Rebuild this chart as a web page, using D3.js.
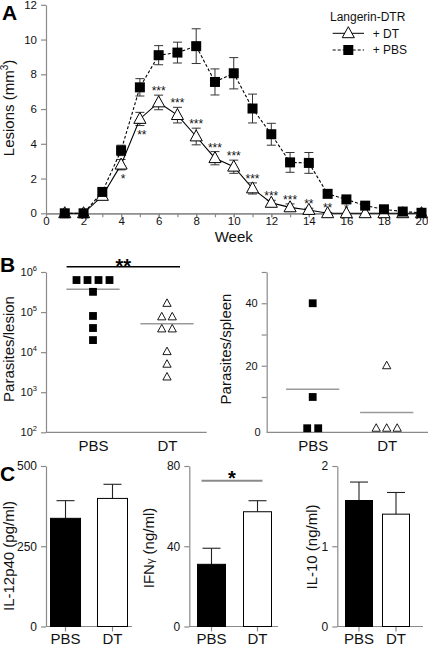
<!DOCTYPE html>
<html><head><meta charset="utf-8">
<script src="https://cdn.jsdelivr.net/npm/d3@7"></script>
<style>
body{margin:0;background:#fff;}
svg{display:block;font-family:"Liberation Sans",Arial,Helvetica,sans-serif;}
</style></head><body>
<svg id="chart" width="428" height="647"></svg>
<script>
// ---------- DATA ----------
// Panel A: lesion size (mm3) by week
const weeks = [1,2,3,4,5,6,7,8,9,10,11,12,13,14,15,16,17,18,19,20];
const pbsMean = [0,0,1.23,3.62,7.25,9.1,9.25,9.62,7.56,8.06,6.03,4.55,2.93,2.9,1.12,0.8,0.44,0.23,0.1,0.03];
const pbsErr  = [0,0,0.15,0.3,0.5,0.55,0.6,1.0,0.75,0.9,0.83,0.63,0.57,0.6,0.2,0.15,0.1,0.1,0.05,0];
const dtMean  = [0,0,1.0,2.8,5.43,6.38,5.65,4.42,3.17,2.68,1.43,0.6,0.34,0.19,0,0,0,0,0,0];
const dtErr   = [0,0,0.1,0.3,0.38,0.42,0.45,0.48,0.38,0.38,0.32,0.15,0.2,0.1,0.05,0,0,0,0,0];
const sigA    = ["","","","*","**","***","***","***","***","***","***","***","***","**","**","*","","","",""];
const xTicksA = [0,2,4,6,8,10,12,14,16,18,20];
const yTicksA = [0,2,4,6,8,10,12];

// Panel B
const groups = ["PBS","DT"];
const lesionPBS = [630000,630000,630000,630000,320000,80000,40000,20000];
const lesionDT  = [165000,76000,76000,38000,38000,10300,5000,2400];
const lesionTicks = [100,1000,10000,100000,1000000];
const spleenPBS = [40,10,0,0];
const spleenDT  = [20,0,0,0];
const spleenTicks = [10,20,30,40,50];
const spleenLabels = [20,40];

// Panel C
const il12Mean = [337,399], il12Err = [55,44], il12Ticks = [0,250,500];
const ifngMean = [31,57.2], ifngErr = [8,5.5], ifngTicks = [0,40,80];
const il10Mean = [1.57,1.40], il10Err = [0.23,0.27], il10Ticks = [0,1,2];

// ---------- DRAW ----------
const svg = d3.select("#chart");
const AX = "#8a8a8a", TXT = "#111";

function styleAxis(g, fs){
  g.select(".domain").attr("stroke", AX).attr("stroke-width", 1.2);
  g.selectAll(".tick line").attr("stroke", AX).attr("stroke-width", 1.2);
  g.selectAll(".tick text").attr("fill", TXT).attr("font-size", fs).attr("font-family", null);
  g.attr("font-family", null);
}
function panelLetter(t, x, y){
  svg.append("text").attr("x", x).attr("y", y).attr("font-size", 21).attr("font-weight", "bold").text(t);
}
function yTitle(parts, x, y){
  const t = svg.append("text").attr("transform", `translate(${x},${y}) rotate(-90)`)
    .attr("text-anchor", "middle").attr("font-size", 15).attr("fill", TXT);
  parts.forEach(p => {
    const s = t.append("tspan").text(p.t);
    if (p.sup) s.attr("font-size", 10).attr("dy", -6);
    if (p.back) s.attr("dy", p.back);
    if (p.small) s.attr("font-size", p.small);
  });
}
const triPath = s => `M0,${-s*0.6}L${s*0.55},${s*0.4}L${-s*0.55},${s*0.4}Z`;

// ===== Panel A =====
const xA = d3.scaleLinear().domain([0,20]).range([46,421.5]);
const yA = d3.scaleLinear().domain([0,12]).range([213.3,4.8]);

const gxMinor = svg.append("g").attr("transform", `translate(0,${yA(0)})`)
  .call(d3.axisBottom(xA).tickValues(weeks).tickFormat("").tickSize(4).tickSizeOuter(0));
styleAxis(gxMinor, 11.5);
const gxA = svg.append("g").attr("transform", `translate(0,${yA(0)})`)
  .call(d3.axisBottom(xA).tickValues(xTicksA).tickFormat(d3.format("d")).tickSize(4).tickSizeOuter(0).tickPadding(0));
styleAxis(gxA, 11.5);
const gyA = svg.append("g").attr("transform", `translate(${xA(0)},0)`)
  .call(d3.axisLeft(yA).tickValues(yTicksA).tickSize(5).tickSizeOuter(0).tickPadding(4));
styleAxis(gyA, 11.5);

svg.append("text").attr("x", (xA(0)+xA(20))/2).attr("y", 241.5).attr("text-anchor","middle")
  .attr("font-size", 15).attr("fill", TXT).text("Week");
yTitle([{t:"Lesions (mm"},{t:"3",sup:true},{t:")",back:6}], 14, 108);
panelLetter("A", 2, 20);

const pbsData = weeks.map((w,i)=>({w, v:pbsMean[i], e:pbsErr[i]}));
const dtData  = weeks.map((w,i)=>({w, v:dtMean[i], e:dtErr[i], s:sigA[i]}));

function errBars(data){
  const g = svg.append("g").attr("stroke", "#333").attr("stroke-width", 1);
  data.filter(d=>d.e>0).forEach(d=>{
    const x = xA(d.w);
    g.append("line").attr("x1",x).attr("x2",x).attr("y1",yA(d.v-d.e)).attr("y2",yA(d.v+d.e));
    [d.v-d.e, d.v+d.e].forEach(v=> g.append("line").attr("x1",x-4.5).attr("x2",x+4.5).attr("y1",yA(v)).attr("y2",yA(v)));
  });
}
errBars(dtData); errBars(pbsData);
const line = d3.line().x(d=>xA(d.w)).y(d=>yA(d.v));
svg.append("path").datum(dtData).attr("d", line).attr("fill","none").attr("stroke","#000").attr("stroke-width",1.1);
svg.append("path").datum(pbsData).attr("d", line).attr("fill","none").attr("stroke","#000").attr("stroke-width",1.1).attr("stroke-dasharray","3,2");

svg.append("g").selectAll("path").data(dtData).join("path")
  .attr("transform", d=>`translate(${xA(d.w)},${yA(d.v)})`).attr("d", triPath(11))
  .attr("fill","#fff").attr("stroke","#000").attr("stroke-width",1);
svg.append("g").selectAll("rect").data(pbsData).join("rect")
  .attr("x", d=>xA(d.w)-5).attr("y", d=>yA(d.v)-5).attr("width",10).attr("height",10).attr("fill","#000");

svg.append("g").selectAll("text").data(dtData.filter(d=>d.s)).join("text")
  .attr("x", d=> d.w<=5 ? xA(d.w)+2 : xA(d.w))
  .attr("y", d=> d.w<=5 ? yA(d.v-d.e)+13 : yA(d.v+d.e))
  .attr("text-anchor","middle").attr("font-size",12).attr("fill","#111").text(d=>d.s);

// legend
const lg = svg.append("g");
lg.append("text").attr("x",330).attr("y",21).attr("font-size",12).attr("fill",TXT).text("Langerin-DTR");
lg.append("line").attr("x1",332.7).attr("x2",364).attr("y1",33.3).attr("y2",33.3).attr("stroke","#000");
lg.append("path").attr("transform","translate(348.3,33.3)").attr("d",triPath(11)).attr("fill","#fff").attr("stroke","#000");
lg.append("text").attr("x",372.7).attr("y",37.6).attr("font-size",12).attr("fill",TXT).text("+ DT");
lg.append("line").attr("x1",332.7).attr("x2",364).attr("y1",50).attr("y2",50).attr("stroke","#000").attr("stroke-dasharray","3,2");
lg.append("rect").attr("x",343.3).attr("y",45).attr("width",10).attr("height",10).attr("fill","#000");
lg.append("text").attr("x",372.7).attr("y",54.3).attr("font-size",12).attr("fill",TXT).text("+ PBS");

// ===== Panel B =====
panelLetter("B", 0, 272);
function jitter(vals, sp){
  const cnt = d3.rollup(vals, v=>v.length, v=>v), seen = new Map();
  return vals.map(v=>{ const n=cnt.get(v), i=seen.get(v)||0; seen.set(v,i+1); return {v, dx:(i-(n-1)/2)*sp}; });
}
function dotPanel(opt){
  const {y, x, x0, x1, pbs, dt} = opt;
  svg.append("line").attr("x1",x0).attr("x2",x1).attr("y1",y.range()[0]).attr("y2",y.range()[0]).attr("stroke",AX).attr("stroke-width",1.2);
  const gx = svg.append("g").attr("transform",`translate(0,${y.range()[0]})`)
    .call(d3.axisBottom(x).tickSize(0).tickPadding(8.5));
  gx.select(".domain").remove();
  gx.selectAll(".tick text").attr("font-size",15).attr("fill",TXT);
  gx.attr("font-family",null);
  [[pbs,"PBS"],[dt,"DT"]].forEach(([vals,gname])=>{
    const m = d3.mean(vals), cx = x(gname);
    svg.append("line").attr("x1",cx-26.6).attr("x2",cx+26.6).attr("y1",y(m)).attr("y2",y(m))
      .attr("stroke","#9a9a9a").attr("stroke-width",1.5);
  });
  svg.append("g").selectAll("rect").data(jitter(pbs,11)).join("rect")
    .attr("x",d=>x("PBS")+d.dx-3.9).attr("y",d=>y(d.v)-3.9).attr("width",7.8).attr("height",7.8).attr("fill","#000");
  svg.append("g").selectAll("path").data(jitter(dt,10.5)).join("path")
    .attr("transform",d=>`translate(${x("DT")+d.dx},${y(d.v)})`).attr("d",triPath(7.5))
    .attr("fill","#fff").attr("stroke","#000").attr("stroke-width",0.9);
}

const yL = d3.scaleLog().domain([1e2,1e6]).range([432.3,272]);
const xL = d3.scalePoint().domain(groups).range([93,167]);
const gyL = svg.append("g").attr("transform","translate(46,0)")
  .call(d3.axisLeft(yL).tickValues(lesionTicks).tickSize(5).tickSizeOuter(0).tickPadding(4).tickFormat(""));
styleAxis(gyL, 11);
gyL.selectAll(".tick text").each(function(d){
  const t = d3.select(this).text("");
  t.append("tspan").text("10");
  t.append("tspan").attr("font-size",7.5).attr("dy",-5).text(Math.round(Math.log10(d)));
});
dotPanel({y:yL, x:xL, x0:46, x1:206.7, pbs:lesionPBS, dt:lesionDT});
yTitle([{t:"Parasites/lesion"}], 13.5, 349);
svg.append("line").attr("x1",xL("PBS")-26.4).attr("x2",xL("DT")+13).attr("y1",266.7).attr("y2",266.7).attr("stroke","#000").attr("stroke-width",1.6);
svg.append("text").attr("x",(xL("PBS")-26.4+xL("DT")+13)/2).attr("y",273).attr("text-anchor","middle")
  .attr("font-size",20).attr("font-weight","bold").text("**");

const yS = d3.scaleLinear().domain([-1.3,50]).range([432.3,272]);
const xS = d3.scalePoint().domain(groups).range([312.7,386.7]);
const gyS = svg.append("g").attr("transform","translate(266.7,0)")
  .call(d3.axisLeft(yS).tickValues(spleenTicks).tickSize(5).tickSizeOuter(0).tickPadding(4)
    .tickFormat(d=> spleenLabels.includes(d) ? d : ""));
styleAxis(gyS, 11);
gyS.append("text").attr("x",-6).attr("y",yS.range()[0]).attr("dy","0.32em").attr("text-anchor","end")
  .attr("font-size",11).attr("fill",TXT).text("0");
dotPanel({y:yS, x:xS, x0:266.7, x1:428, pbs:spleenPBS, dt:spleenDT});
yTitle([{t:"Parasites/spleen"}], 231, 349);

// ===== Panel C =====
panelLetter("C", 0, 481);
const yRange = [626.5, 466];
const cPanels = [
  {mean:il12Mean, err:il12Err, ticks:il12Ticks, ax:46,    end:132, band:[50,128], pad:0.34,
   title:[{t:"IL-12p40 (pg/ml)"}], tx:13.5, ty:556},
  {mean:ifngMean, err:ifngErr, ticks:ifngTicks, ax:189.3, end:278, band:[197,272], pad:0.37,
   title:[{t:"IFN"},{t:"γ",small:11},{t:" (ng/ml)"}], tx:154, ty:548, sig:"*"},
  {mean:il10Mean, err:il10Err, ticks:il10Ticks, ax:337.3, end:423, band:[345,410], pad:0.243,
   title:[{t:"IL-10 (ng/ml)"}], tx:317, ty:547}
];
cPanels.forEach(p=>{
  const y = d3.scaleLinear().domain([0, d3.max(p.ticks)]).range(yRange);
  const x = d3.scaleBand().domain(groups).range(p.band).paddingInner(p.pad).paddingOuter(0);
  const gy = svg.append("g").attr("transform",`translate(${p.ax},0)`)
    .call(d3.axisLeft(y).tickValues(p.ticks).tickFormat(d3.format("d")).tickSize(5).tickSizeOuter(0).tickPadding(4));
  styleAxis(gy, 12);
  svg.append("line").attr("x1",p.ax).attr("x2",p.end).attr("y1",yRange[0]).attr("y2",yRange[0]).attr("stroke",AX).attr("stroke-width",1.2);
  const gx = svg.append("g").attr("transform",`translate(0,${yRange[0]})`)
    .call(d3.axisBottom(x).tickSize(5).tickPadding(2.3));
  gx.select(".domain").remove();
  gx.selectAll(".tick line").attr("stroke",AX).attr("stroke-width",1.2);
  gx.selectAll(".tick text").attr("font-size",15).attr("fill",TXT);
  gx.attr("font-family",null);
  groups.forEach((gname,i)=>{
    const cx = x(gname)+x.bandwidth()/2, top = y(p.mean[i]+p.err[i]);
    svg.append("line").attr("x1",cx).attr("x2",cx).attr("y1",y(p.mean[i])).attr("y2",top).attr("stroke","#222").attr("stroke-width",1.1);
    svg.append("line").attr("x1",cx-9).attr("x2",cx+9).attr("y1",top).attr("y2",top).attr("stroke","#222").attr("stroke-width",1.1);
  });
  groups.forEach((gname,i)=>{
    svg.append("rect").attr("x",x(gname)+0.5).attr("y",y(p.mean[i])).attr("width",x.bandwidth()-1)
      .attr("height",y(0)-y(p.mean[i])).attr("fill", i===0?"#000":"#fff").attr("stroke","#000").attr("stroke-width",1);
  });
  yTitle(p.title, p.tx, p.ty);
  if (p.sig){
    const a = x("PBS")+x.bandwidth()/2-10, b = x("DT")+x.bandwidth()/2+5;
    svg.append("line").attr("x1",a).attr("x2",b).attr("y1",480.7).attr("y2",480.7).attr("stroke","#8a8a8a").attr("stroke-width",2);
    svg.append("text").attr("x",(a+b)/2).attr("y",485).attr("text-anchor","middle").attr("font-size",20).attr("font-weight","bold").text(p.sig);
  }
});
</script>
</body></html>
